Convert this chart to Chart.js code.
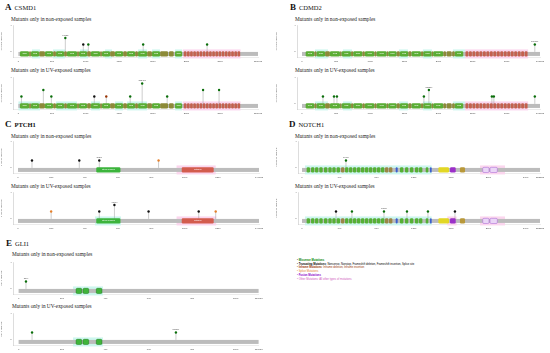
<!DOCTYPE html>
<html>
<head>
<meta charset="utf-8">
<script src="https://cdn.jsdelivr.net/npm/chart.js@4.4.1/dist/chart.umd.min.js"></script>
<style>
body { margin: 0; background: #fff; }
#page { position: relative; width: 550px; height: 353px; overflow: hidden; font-family: "Liberation Serif", "Times New Roman", serif; }
.ttl { position: absolute; font-size: 6.5px; color: #111; white-space: nowrap; }
.ttl b { font-size: 9px; margin-right: 3px; }
.sub { position: absolute; font-size: 5.3px; color: #222; white-space: nowrap; }
canvas { position: absolute; }
.leg { position: absolute; left: 297px; top: 259px; font-family: "Liberation Sans", Arial, sans-serif; font-size: 2.7px; line-height: 3.7px; white-space: nowrap; color: #000; }
</style>
</head>
<body>
<div id="page">
  <div class="ttl" style="left:5px;top:2px"><b>A</b>CSMD1</div>
  <div class="ttl" style="left:290px;top:2px"><b>B</b>CDMD2</div>
  <div class="ttl" style="left:5px;top:119px"><b>C</b><b style="font-size:6.5px">PTCH1</b></div>
  <div class="ttl" style="left:289px;top:119px"><b>D</b>NOTCH1</div>
  <div class="ttl" style="left:6px;top:238px"><b>E</b>GLI1</div>

  <div class="sub" style="left:11px;top:16px">Mutants only in non-exposed samples</div>
  <div class="sub" style="left:11px;top:67px">Mutants only in UV-exposed samples</div>
  <div class="sub" style="left:295px;top:16px">Mutants only in non-exposed samples</div>
  <div class="sub" style="left:295px;top:67px">Mutants only in UV-exposed samples</div>
  <div class="sub" style="left:11px;top:133px">Mutants only in non-exposed samples</div>
  <div class="sub" style="left:11px;top:183px">Mutants only in UV-exposed samples</div>
  <div class="sub" style="left:295px;top:133px">Mutants only in non-exposed samples</div>
  <div class="sub" style="left:295px;top:183px">Mutants only in UV-exposed samples</div>
  <div class="sub" style="left:12px;top:251px">Mutants only in non-exposed samples</div>
  <div class="sub" style="left:12px;top:303px">Mutants only in UV-exposed samples</div>

  <div class="leg">
    <div>&#8226; <b style="color:#008000">Missense Mutations</b></div>
    <div>&#8226; <b>Truncating Mutations</b>: Nonsense, Nonstop, Frameshift deletion, Frameshift insertion, Splice site</div>
    <div style="color:#993404">&#8226; <b>Inframe Mutations</b>: Inframe deletion, Inframe insertion</div>
    <div style="color:#e5802b">&#8226; Splice Mutations</div>
    <div style="color:#8b00c9">&#8226; <b>Fusion Mutations</b></div>
    <div style="color:#cf58bc">&#8226; Other Mutations: All other types of mutations</div>
  </div>
</div>
<script>
// genes / proteins
const genes = ['CSMD1', 'CSMD2', 'PTCH1', 'NOTCH1', 'GLI1'];
const proteinLength = [3564, 3487, 1447, 2555, 1106];
const xTickValues = [
  [0, 500, 1000, 1500, 2000, 2500, 3000, 3564],
  [0, 500, 1000, 1500, 2000, 2500, 3000, 3487],
  [0, 200, 400, 600, 800, 1000, 1200, 1447],
  [0, 400, 800, 1200, 1600, 2000, 2400, 2555],
  [0, 200, 400, 600, 800, 1000, 1106]
];
const yTickValues = [0, 4];

// CSMD1
const csmd1NonPos = [698, 965, 1040, 1856, 2807];
const csmd1NonCount = [2, 1, 1, 1, 1];
const csmd1NonType = ['missense', 'truncating', 'missense', 'missense', 'missense'];
const csmd1NonLabel = ['P698S', '', '', '', ''];
const csmd1UvPos = [45, 371, 490, 1129, 1307, 1663, 1841, 2213, 2747, 2985];
const csmd1UvCount = [1, 2, 1, 1, 1, 1, 3, 1, 2, 2];
const csmd1UvType = ['missense', 'missense', 'missense', 'truncating', 'inframe', 'missense', 'missense', 'missense', 'missense', 'missense'];
const csmd1UvLabel = ['', '', '', '', '', '', 'G1841R', '', '', ''];

// CSMD2
const csmd2NonPos = [3411];
const csmd2NonCount = [1];
const csmd2NonType = ['missense'];
const csmd2NonLabel = ['E3411K'];
const csmd2UvPos = [307, 469, 512, 1786, 1859, 2782, 2811, 3411];
const csmd2UvCount = [1, 1, 1, 1, 2, 1, 1, 1];
const csmd2UvType = ['missense', 'missense', 'missense', 'missense', 'missense', 'missense', 'missense', 'missense'];
const csmd2UvLabel = ['', '', '', '', 'S1859F', '', '', ''];

// PTCH1
const ptch1NonPos = [84, 368, 488, 844];
const ptch1NonCount = [1, 1, 1, 1];
const ptch1NonType = ['truncating', 'truncating', 'truncating', 'splice'];
const ptch1NonLabel = ['', '', 'Q488*', ''];
const ptch1UvPos = [199, 488, 579, 784, 1085, 1187];
const ptch1UvCount = [1, 1, 2, 1, 1, 1];
const ptch1UvType = ['splice', 'truncating', 'truncating', 'truncating', 'truncating', 'splice'];
const ptch1UvLabel = ['', '', 'W579*', '', '', ''];

// NOTCH1
const notch1NonPos = [472];
const notch1NonCount = [1];
const notch1NonType = ['missense'];
const notch1NonLabel = ['C472Y'];
const notch1UvPos = [365, 536, 880, 1127, 1352, 1642];
const notch1UvCount = [1, 1, 1, 1, 1, 1];
const notch1UvType = ['truncating', 'missense', 'missense', 'missense', 'missense', 'truncating'];
const notch1UvLabel = ['', '', 'P880L', '', '', ''];

// GLI1
const gli1NonPos = [34];
const gli1NonCount = [1];
const gli1NonType = ['missense'];
const gli1NonLabel = ['S34L'];
const gli1UvPos = [62, 725];
const gli1UvCount = [1, 1];
const gli1UvType = ['missense', 'missense'];
const gli1UvLabel = ['', 'R725W'];

// domains [start, end, kind, label]
const csmd1Domains = [
  [24, 158, 'cub', 'CUB'], [160, 186, 'sushi'], [188, 307, 'cub', 'CUB'], [310, 394, 'sushi'],
  [396, 515, 'cub', 'CUB'], [517, 558, 'sushi'], [560, 679, 'cub', 'CUB'], [681, 721, 'sushi'],
  [723, 872, 'cub', 'CUB'], [874, 900, 'sushi'], [902, 1021, 'cub', 'CUB'], [1023, 1078, 'sushi'],
  [1080, 1214, 'cub', 'CUB'], [1216, 1242, 'sushi'], [1244, 1363, 'cub', 'CUB'], [1365, 1435, 'sushi'],
  [1437, 1557, 'cub', 'CUB'], [1559, 1614, 'sushi'], [1616, 1735, 'cub', 'CUB'], [1737, 1778, 'sushi'],
  [1780, 1914, 'cub', 'CUB'], [1916, 1986, 'sushi'], [1988, 2107, 'cub', 'CUB'], [2109, 2226, 'sushi'],
  [2240, 2310, 'sushi'], [2330, 2434, 'cub', 'CUB'],
  [2460, 2500, 'sushiR'], [2507, 2547, 'sushiR'], [2554, 2594, 'sushiR'], [2601, 2641, 'sushiR'],
  [2648, 2688, 'sushiR'], [2695, 2735, 'sushiR'], [2742, 2782, 'sushiR'], [2789, 2829, 'sushiR'],
  [2836, 2876, 'sushiR'], [2883, 2923, 'sushiR'], [2930, 2970, 'sushiR'], [2977, 3017, 'sushiR'],
  [3024, 3064, 'sushiR'], [3071, 3111, 'sushiR'], [3118, 3158, 'sushiR'], [3165, 3205, 'sushiR'],
  [3212, 3252, 'sushiR'], [3259, 3299, 'sushiR']
];
const csmd2Domains = [
  [54, 180, 'cub', 'CUB'], [182, 213, 'sushi'], [215, 337, 'cub', 'CUB'], [339, 408, 'sushi'],
  [410, 556, 'cub', 'CUB'], [558, 579, 'sushi'], [581, 717, 'cub', 'CUB'], [719, 749, 'sushi'],
  [751, 883, 'cub', 'CUB'], [885, 920, 'sushi'], [922, 1059, 'cub', 'CUB'], [1061, 1092, 'sushi'],
  [1094, 1240, 'cub', 'CUB'], [1242, 1262, 'sushi'], [1264, 1387, 'cub', 'CUB'], [1389, 1433, 'sushi'],
  [1435, 1556, 'cub', 'CUB'], [1558, 1604, 'sushi'], [1606, 1742, 'cub', 'CUB'], [1744, 1774, 'sushi'],
  [1776, 1899, 'cub', 'CUB'], [1901, 1920, 'sushi'], [1922, 2069, 'cub', 'CUB'], [2071, 2110, 'sushi'],
  [2119, 2192, 'sushi'], [2200, 2238, 'sushi'], [2240, 2362, 'cub', 'CUB'],
  [2395, 2438, 'sushiR'], [2446, 2489, 'sushiR'], [2497, 2540, 'sushiR'], [2548, 2591, 'sushiR'],
  [2599, 2642, 'sushiR'], [2650, 2693, 'sushiR'], [2701, 2744, 'sushiR'], [2752, 2795, 'sushiR'],
  [2803, 2846, 'sushiR'], [2854, 2897, 'sushiR'], [2905, 2948, 'sushiR'], [2956, 2999, 'sushiR'],
  [3007, 3050, 'sushiR'], [3058, 3101, 'sushiR'], [3109, 3152, 'sushiR'], [3160, 3203, 'sushiR'],
  [3211, 3254, 'sushiR'], [3262, 3305, 'sushiR']
];
const ptch1Domains = [[470, 615, 'ssd', 'Sterol-sensing'], [983, 1175, 'patched', 'Patched']];
const notch1Domains = [
  [50, 86, 'egf'], [97, 132, 'egf'], [140, 175, 'egf'], [186, 222, 'egf'], [236, 272, 'egf'],
  [283, 318, 'egf'], [326, 361, 'egf'], [372, 408, 'egf'], [419, 454, 'egfca'],
  [462, 497, 'egf'], [505, 540, 'egf'], [547, 583, 'egf'], [590, 626, 'egf'], [633, 669, 'egf'],
  [676, 712, 'egf'], [719, 755, 'egf'], [762, 798, 'egf'], [805, 841, 'egf'], [848, 884, 'egf'],
  [891, 927, 'egfca'], [934, 970, 'egfca'], [1006, 1027, 'blue'],
  [1052, 1088, 'egf'], [1106, 1141, 'egf'], [1159, 1195, 'egf'], [1213, 1249, 'egf'], [1256, 1292, 'egf'],
  [1328, 1356, 'egf'], [1374, 1392, 'blue'],
  [1464, 1578, 'lnr'], [1589, 1650, 'nod'], [1696, 1750, 'nodp'],
  [1940, 2008, 'ank'], [2018, 2097, 'ank']
];
const gli1Domains = [[265, 291, 'zf'], [297, 323, 'zf'], [358, 384, 'zf']];

// highlighted regions [start, end, colour]
const csmd1NonHl = [[202, 321, 'c'], [515, 693, 'c'], [917, 1036, 'c'], [1289, 1393, 'c'], [1780, 1914, 'c'], [1988, 2107, 'c'], [2330, 2434, 'c'], [2445, 3305, 'p']];
const csmd1UvHl = [[0, 321, 'c'], [560, 872, 'c'], [1080, 1214, 'c'], [1437, 1557, 'c'], [1616, 1914, 'c'], [2330, 2434, 'c'], [2445, 3305, 'p']];
const csmd2NonHl = [[190, 381, 'c'], [600, 732, 'c'], [1420, 1552, 'c'], [1771, 1903, 'c'], [2211, 2387, 'c'], [2387, 3313, 'p']];
const csmd2UvHl = [[190, 381, 'c'], [600, 732, 'c'], [1420, 1552, 'c'], [1771, 1903, 'c'], [2211, 2387, 'c'], [2387, 3313, 'p']];
const ptch1NonHl = [[952, 1187, 'p']];
const ptch1UvHl = [[462, 618, 'c'], [952, 1190, 'p']];
const notch1NonHl = [[32, 1392, 'c'], [1911, 2179, 'p']];
const notch1UvHl = [[32, 1392, 'c'], [1560, 1660, 'p'], [1911, 2179, 'p']];
const gli1NonHl = [[251, 389, 'c']];
const gli1UvHl = [[251, 389, 'c']];

// colours
const typeColor = { missense: '#0a6e0a', truncating: '#111111', inframe: '#993404', splice: '#e5802b' };
const hlColor = { c: '#cdf6ee', p: '#fbd6ee' };
const domainColor = {
  cub: '#5aad34', sushi: '#8c8a38', sushiR: '#c4604f', ssd: '#3cb43c', patched: '#d35c4e',
  egf: '#55b035', egfca: '#9a8646', blue: '#3a5fd0', lnr: '#e2d725', nod: '#9b30c8', nodp: '#b8983a',
  ank: '#ead6f6', zf: '#3fb53a'
};

// layout of each protein axis in page pixels
const geometry = [
  { col: 0, axisX: 13, zeroX: 18.4, endX: 258 },
  { col: 275, axisX: 297, zeroX: 302, endX: 540 },
  { col: 0, axisX: 13, zeroX: 18, endX: 259 },
  { col: 275, axisX: 298, zeroX: 302, endX: 540 },
  { col: 0, axisX: 13, zeroX: 18.6, endX: 258.6 }
];

const plots = [
  { gene: 0, top: 25, pos: csmd1NonPos, count: csmd1NonCount, type: csmd1NonType, label: csmd1NonLabel, dom: csmd1Domains, hl: csmd1NonHl },
  { gene: 0, top: 76.5, pos: csmd1UvPos, count: csmd1UvCount, type: csmd1UvType, label: csmd1UvLabel, dom: csmd1Domains, hl: csmd1UvHl },
  { gene: 1, top: 25, pos: csmd2NonPos, count: csmd2NonCount, type: csmd2NonType, label: csmd2NonLabel, dom: csmd2Domains, hl: csmd2NonHl },
  { gene: 1, top: 76.5, pos: csmd2UvPos, count: csmd2UvCount, type: csmd2UvType, label: csmd2UvLabel, dom: csmd2Domains, hl: csmd2UvHl },
  { gene: 2, top: 141, pos: ptch1NonPos, count: ptch1NonCount, type: ptch1NonType, label: ptch1NonLabel, dom: ptch1Domains, hl: ptch1NonHl },
  { gene: 2, top: 192, pos: ptch1UvPos, count: ptch1UvCount, type: ptch1UvType, label: ptch1UvLabel, dom: ptch1Domains, hl: ptch1UvHl },
  { gene: 3, top: 141, pos: notch1NonPos, count: notch1NonCount, type: notch1NonType, label: notch1NonLabel, dom: notch1Domains, hl: notch1NonHl },
  { gene: 3, top: 192, pos: notch1UvPos, count: notch1UvCount, type: notch1UvType, label: notch1UvLabel, dom: notch1Domains, hl: notch1UvHl },
  { gene: 4, top: 262, pos: gli1NonPos, count: gli1NonCount, type: gli1NonType, label: gli1NonLabel, dom: gli1Domains, hl: gli1NonHl },
  { gene: 4, top: 313, pos: gli1UvPos, count: gli1UvCount, type: gli1UvType, label: gli1UvLabel, dom: gli1Domains, hl: gli1UvHl }
];

const BAR_Y = -0.45; // protein bar sits just below 0

function box(ctx, x, y, w, h, r) {
  ctx.beginPath();
  if (ctx.roundRect) ctx.roundRect(x, y, w, h, r); else ctx.rect(x, y, w, h);
}

// draws highlight, protein bar, domains and stems
const lollipopPlugin = {
  id: 'lollipop',
  beforeDatasetsDraw(chart, args, opts) {
    const p = opts.plot;
    if (!p) return;
    const { ctx } = chart;
    const x = chart.scales.x, y = chart.scales.y;
    const len = proteinLength[p.gene];
    const yb = y.getPixelForValue(BAR_Y);
    ctx.save();
    p.hl.forEach(h => {
      const a = x.getPixelForValue(h[0]), b = x.getPixelForValue(h[1]);
      ctx.fillStyle = hlColor[h[2]];
      ctx.fillRect(a, yb - 4.5, b - a, 9);
    });
    // stems
    ctx.strokeStyle = '#9a9a9a';
    ctx.lineWidth = 0.5;
    p.pos.forEach((v, i) => {
      const px = x.getPixelForValue(v);
      ctx.beginPath();
      ctx.moveTo(px, yb - 2);
      ctx.lineTo(px, y.getPixelForValue(p.count[i]));
      ctx.stroke();
    });
    // protein bar
    const x0 = x.getPixelForValue(0), x1 = x.getPixelForValue(len);
    ctx.fillStyle = '#bcbcbc';
    ctx.fillRect(x0, yb - 2, x1 - x0, 4);
    // domains
    p.dom.forEach(d => {
      const a = x.getPixelForValue(d[0]), b = x.getPixelForValue(d[1]);
      box(ctx, a, yb - 2.6, b - a, 5.2, 1.2);
      ctx.fillStyle = domainColor[d[2]];
      ctx.fill();
      if (d[2] === 'ank') { ctx.strokeStyle = '#b070d8'; ctx.lineWidth = 0.6; ctx.stroke(); }
      if (d[2] === 'zf') { ctx.strokeStyle = '#1d7a1d'; ctx.lineWidth = 0.5; ctx.stroke(); }
      if (d[3]) {
        ctx.fillStyle = '#fff';
        ctx.font = '2px "Liberation Sans", Arial, sans-serif';
        ctx.textAlign = 'center';
        ctx.textBaseline = 'middle';
        ctx.fillText(d[3], (a + b) / 2, yb);
      }
    });
    ctx.restore();
  },
  afterDatasetsDraw(chart, args, opts) {
    const p = opts.plot;
    if (!p) return;
    const { ctx } = chart;
    const x = chart.scales.x, y = chart.scales.y;
    ctx.save();
    ctx.fillStyle = '#444';
    ctx.font = '2px "Liberation Sans", Arial, sans-serif';
    ctx.textAlign = 'center';
    ctx.textBaseline = 'bottom';
    p.label.forEach((t, i) => {
      if (!t) return;
      ctx.fillText(t, x.getPixelForValue(p.pos[i]), y.getPixelForValue(p.count[i]) - 1.6);
    });
    ctx.restore();
  }
};

const page = document.getElementById('page');

plots.forEach((p, k) => {
  const g = geometry[p.gene];
  const len = proteinLength[p.gene];
  const canvas = document.createElement('canvas');
  canvas.width = 275;
  canvas.height = 46;
  canvas.style.left = g.col + 'px';
  canvas.style.top = (p.top - 4) + 'px';
  page.appendChild(canvas);

  const xMin = -(g.zeroX - g.axisX) / (g.endX - g.zeroX) * len;

  new Chart(canvas.getContext('2d'), {
    type: 'scatter',
    data: {
      datasets: [{
        data: p.pos.map((v, i) => ({ x: v, y: p.count[i] })),
        pointBackgroundColor: p.type.map(t => typeColor[t]),
        pointBorderColor: p.type.map(t => typeColor[t]),
        pointBorderWidth: 0,
        pointRadius: 1.2,
        clip: false
      }]
    },
    options: {
      responsive: false,
      animation: false,
      layout: { padding: { top: 4, right: g.col + 275 - g.endX, left: 0, bottom: 0 } },
      plugins: {
        legend: { display: false },
        tooltip: { enabled: false },
        lollipop: { plot: p }
      },
      scales: {
        x: {
          type: 'linear',
          min: xMin,
          max: len,
          afterBuildTicks: s => { s.ticks = xTickValues[p.gene].map(v => ({ value: v })); },
          afterFit: s => { s.height = 9.5; },
          grid: { display: false, drawTicks: false },
          border: { display: true, color: '#d8d8d8', width: 0.5 },
          ticks: {
            autoSkip: false, maxRotation: 0, padding: 2.2,
            color: '#444', font: { size: 2.4, family: 'Liberation Sans' },
            callback: v => (v === len ? v + 'aa' : v)
          }
        },
        y: {
          min: -1,
          max: 4,
          afterBuildTicks: s => { s.ticks = yTickValues.map(v => ({ value: v })); },
          afterFit: s => { s.width = g.axisX - g.col; },
          grid: { display: false, drawTicks: false },
          border: { display: true, color: '#bbb', width: 0.5 },
          ticks: { padding: 1.5, color: '#444', font: { size: 2.4, family: 'Liberation Sans' } },
          title: {
            display: true, text: '# ' + genes[p.gene] + ' Mutations',
            color: '#555', font: { size: 2, family: 'Liberation Sans' }, padding: 0
          }
        }
      }
    },
    plugins: [lollipopPlugin]
  });
});
</script>
</body>
</html>
